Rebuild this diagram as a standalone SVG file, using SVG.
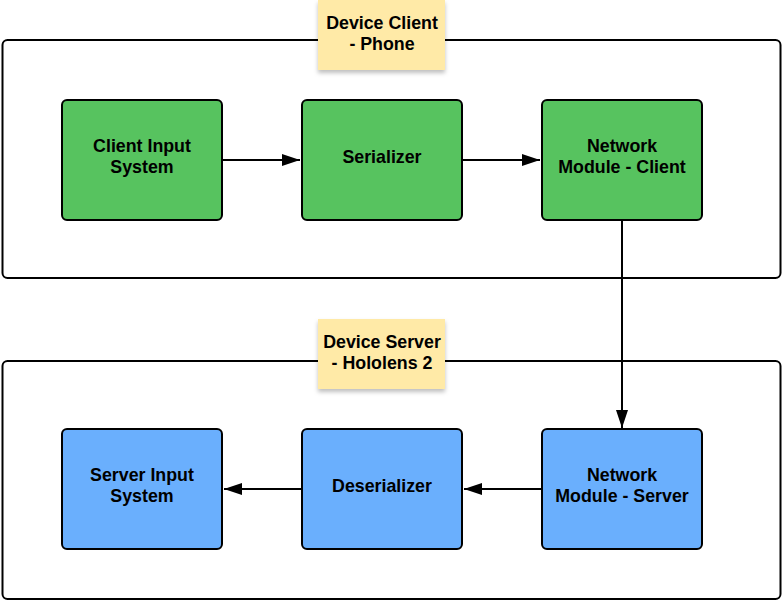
<svg xmlns="http://www.w3.org/2000/svg" width="782" height="601" viewBox="0 0 782 601">
<style>
.container{fill:#fff;stroke:#000;stroke-width:2}
.green{fill:#57c35f;stroke:#000;stroke-width:2}
.blue{fill:#6aaffd;stroke:#000;stroke-width:2}
.note{fill:#ffeaa7}
.t{font-family:"Liberation Sans",Arial,sans-serif;font-weight:bold;font-size:17.8px;fill:#000;text-anchor:middle}
.conn{fill:none;stroke:#000;stroke-width:2}
</style>
<defs>
<marker id="arr" markerWidth="18" markerHeight="12" refX="18" refY="6" orient="auto" markerUnits="userSpaceOnUse">
<path d="M0,0 L18,6 L0,12 Z" fill="#000"/>
</marker>
<filter id="sh" x="-20%" y="-20%" width="140%" height="150%">
<feDropShadow dx="0" dy="3" stdDeviation="2" flood-color="#000" flood-opacity="0.25"/>
</filter>
</defs>
<g id="client-container">
<rect class="container" x="2.5" y="40" width="778" height="238" rx="5"/>
</g>
<g id="server-container">
<rect class="container" x="2.5" y="361" width="778" height="238" rx="5"/>
</g>
<g id="client-input">
<rect class="green" x="62" y="100" width="160" height="120" rx="5"/>
<text class="t" x="142" y="152">Client Input</text>
<text class="t" x="142" y="173">System</text>
</g>
<g id="serializer">
<rect class="green" x="302" y="100" width="160" height="120" rx="5"/>
<text class="t" x="382" y="163">Serializer</text>
</g>
<g id="network-client">
<rect class="green" x="542" y="100" width="160" height="120" rx="5"/>
<text class="t" x="622" y="152">Network</text>
<text class="t" x="622" y="173">Module - Client</text>
</g>
<g id="server-input">
<rect class="blue" x="62" y="429" width="160" height="120" rx="5"/>
<text class="t" x="142" y="481">Server Input</text>
<text class="t" x="142" y="502">System</text>
</g>
<g id="deserializer">
<rect class="blue" x="302" y="429" width="160" height="120" rx="5"/>
<text class="t" x="382" y="492">Deserializer</text>
</g>
<g id="network-server">
<rect class="blue" x="542" y="429" width="160" height="120" rx="5"/>
<text class="t" x="622" y="481">Network</text>
<text class="t" x="622" y="502">Module - Server</text>
</g>
<g id="connectors">
<path class="conn" d="M222,160 L300,160" marker-end="url(#arr)"/>
<path class="conn" d="M462,160 L540,160" marker-end="url(#arr)"/>
<path class="conn" d="M622,220 L622,428" marker-end="url(#arr)"/>
<path class="conn" d="M542,489 L464,489" marker-end="url(#arr)"/>
<path class="conn" d="M302,489 L224,489" marker-end="url(#arr)"/>
</g>
<g id="note-client">
<rect class="note" x="318" y="0" width="127" height="70" filter="url(#sh)"/>
<text class="t" x="382" y="29">Device Client</text>
<text class="t" x="382" y="50">- Phone</text>
</g>
<g id="note-server">
<rect class="note" x="318" y="319" width="127" height="70" filter="url(#sh)"/>
<text class="t" x="382" y="348">Device Server</text>
<text class="t" x="382" y="369">- Hololens 2</text>
</g>
</svg>
